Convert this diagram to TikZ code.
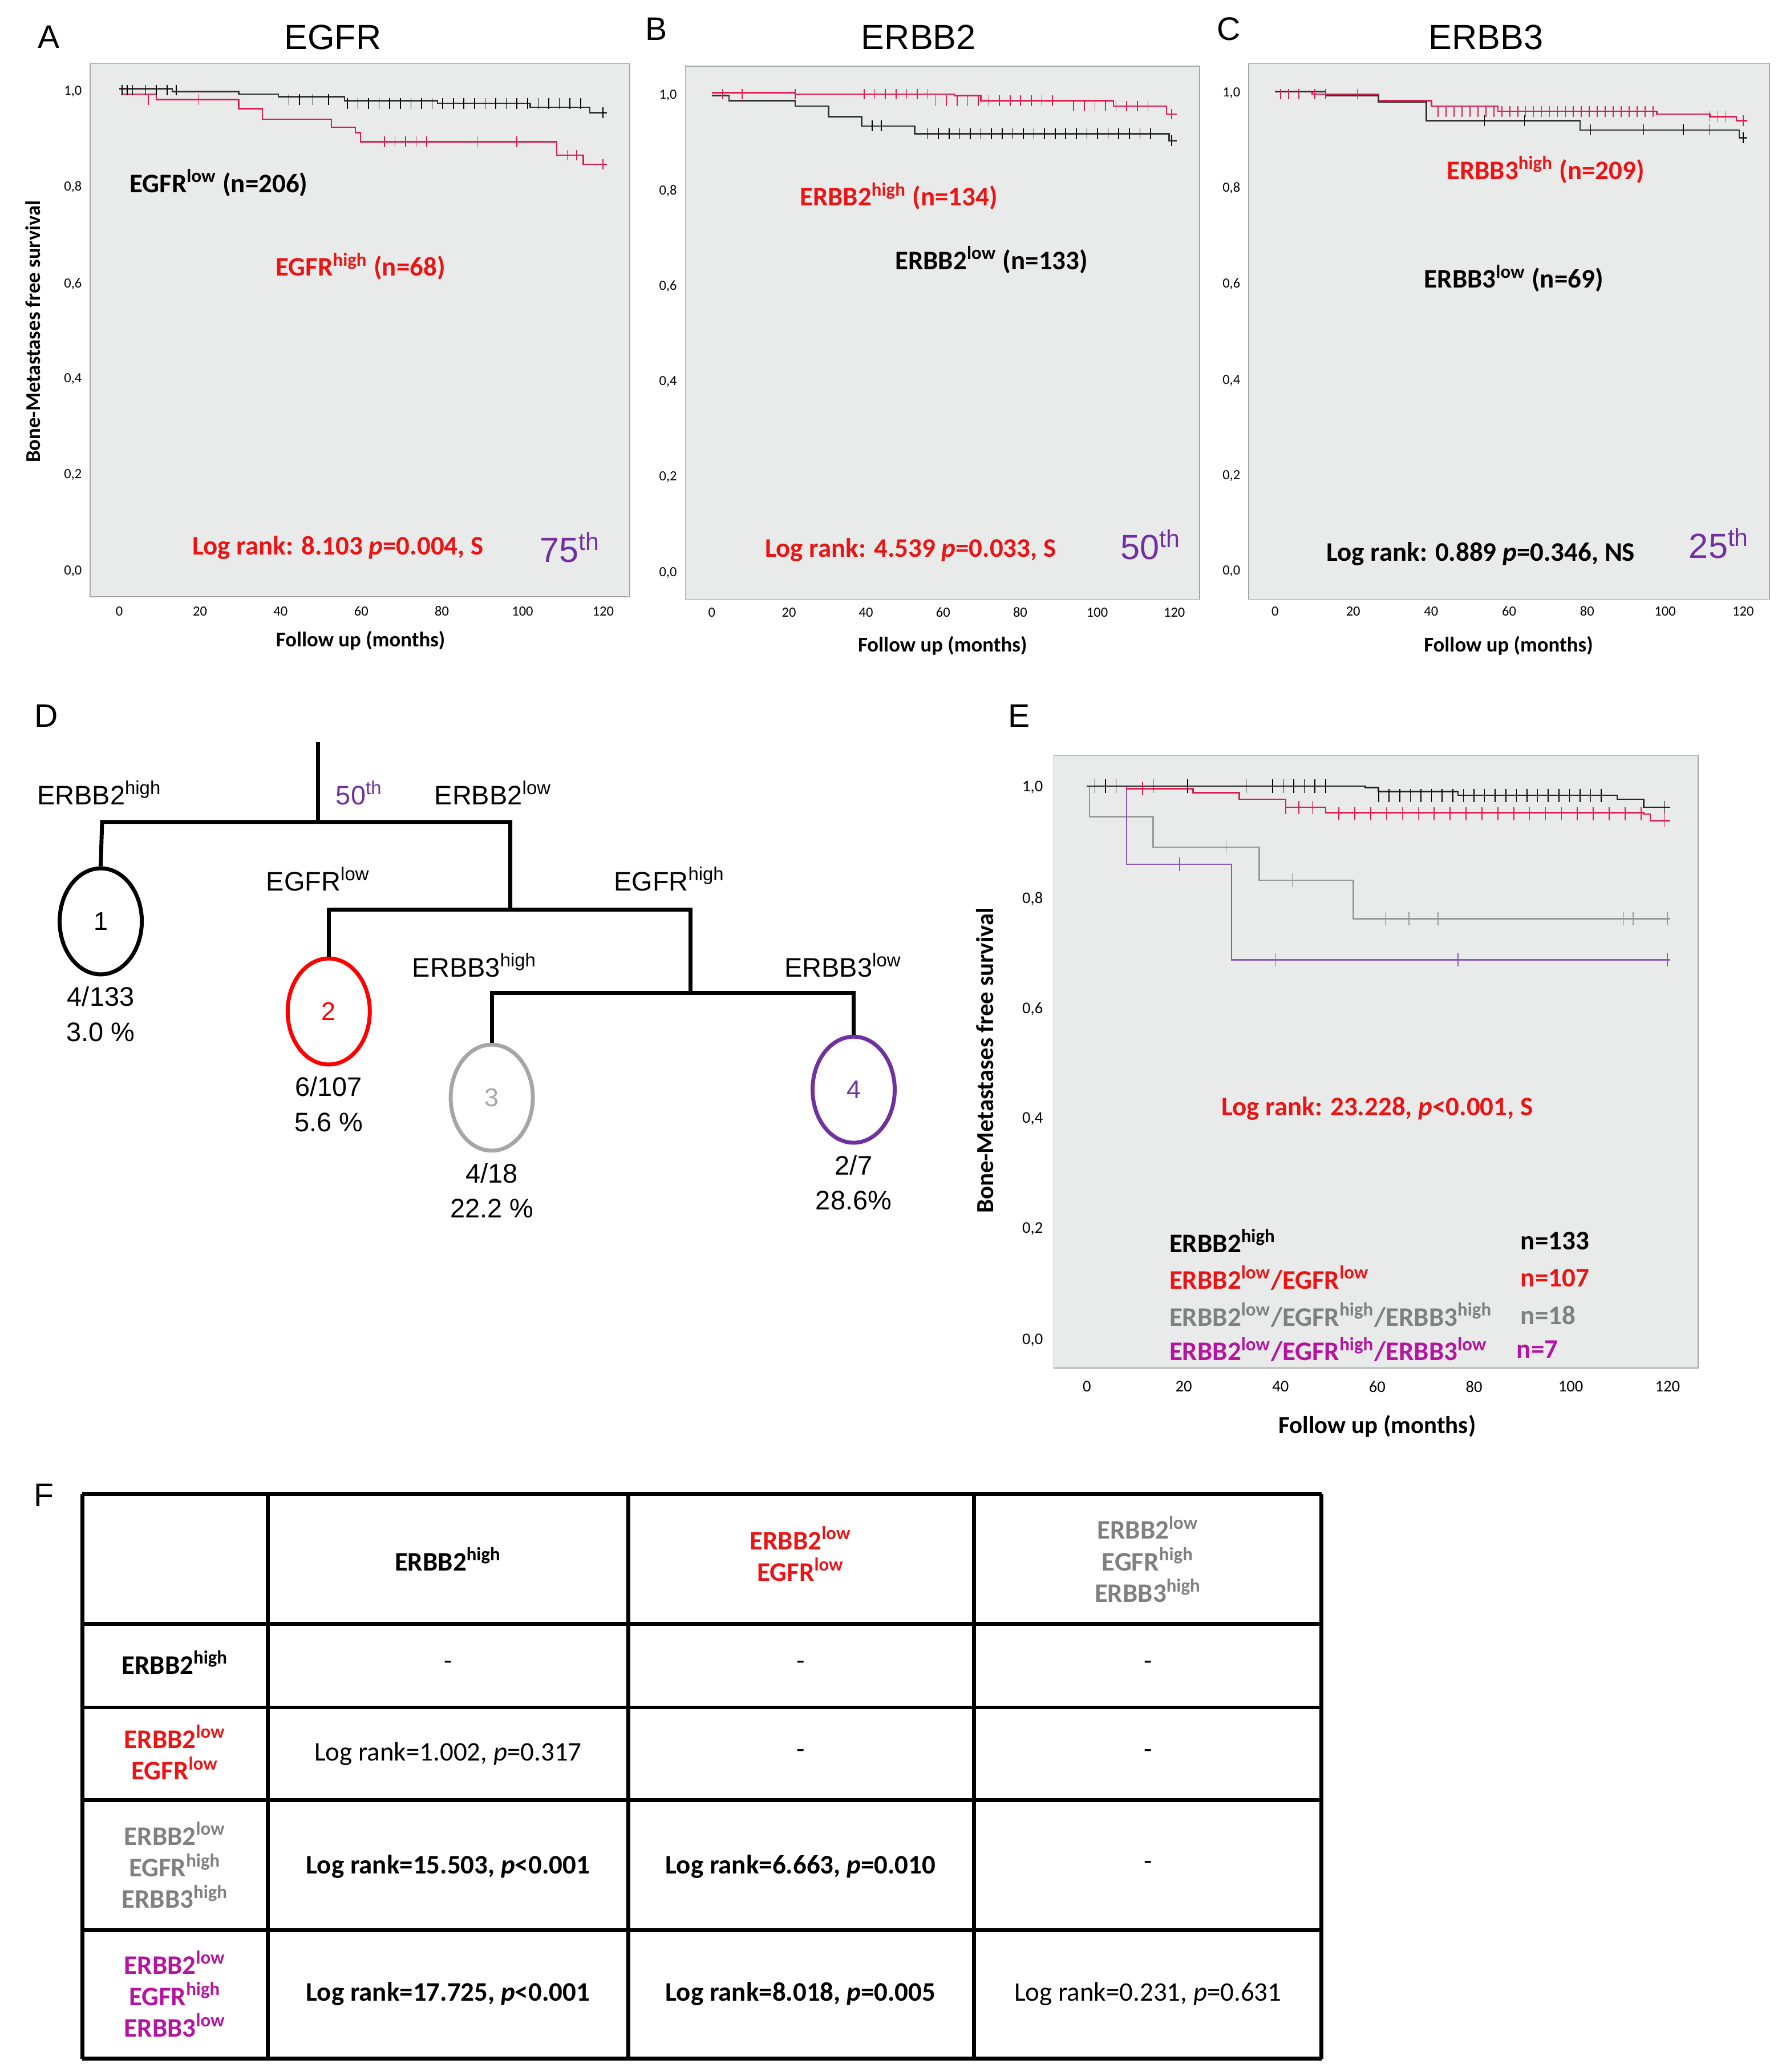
\documentclass[tikz,border=0pt]{standalone}
\usepackage{fontspec}
\setmainfont{Carlito}
\newfontfamily\arialf{Liberation Sans}
\usetikzlibrary{positioning, shapes.geometric}
\definecolor{kmred}{RGB}{220,30,80}
\definecolor{txtred}{RGB}{235,20,20}
\definecolor{pct}{RGB}{112,48,160}
\definecolor{mag}{RGB}{180,20,160}
\definecolor{txtgray}{RGB}{128,128,128}
\definecolor{plotbg}{RGB}{233,234,234}
\newcommand{\hi}{\textsuperscript{high}}
\newcommand{\lo}{\textsuperscript{low}}
\newcommand{\pth}{\textsuperscript{th}}

\begin{document}
\begin{tikzpicture}[
    x=0.02cm, y=-0.02cm,
    plotbox/.style={draw=gray!70, fill=plotbg},
    tick/.style={font=\fontsize{6}{7}\selectfont},
    ann/.style={font=\fontsize{11.5}{13}\selectfont\bfseries},
    title/.style={font=\arialf\fontsize{15}{17}\selectfont},
    letter/.style={font=\arialf\fontsize{14}{16}\selectfont},
    axlab/.style={font=\fontsize{9}{10}\selectfont\bfseries},
    km/.style={const plot, line width=0.6pt},
    tree/.style={line width=1.7pt},
    tt/.style={font=\arialf\fontsize{11.5}{15}\selectfont, align=center},
    leaf/.style={ellipse, draw, line width=1.7pt, minimum width=1.24cm, minimum height=1.6cm, font=\arialf\fontsize{11}{13}\selectfont},
    cell/.style={font=\fontsize{11.5}{13.5}\selectfont, align=center},
    grid/.style={line width=1.7pt}
]
\useasboundingbox (0,0) rectangle (1350,1563);

% ---- panel A ----
\node[letter] (lA) at (37,28) {A};
\node[title] (tA) at (251,28) {EGFR};
\draw[plotbox] (68,48) rectangle (475,450);
\foreach \v/\y in {{1,0}/69, {0,8}/141, {0,6}/214, {0,4}/286, {0,2}/358, {0,0}/431}
  \node[tick] at (55,\y) {\v};
\foreach \t in {0,20,...,120}
  \node[tick] at (90+3.042*\t,461) {\t};
\node[axlab] (xA) at (272,483) {Follow up (months)};
\node[axlab, rotate=90] (yA) at (25,250) {Bone-Metastases free survival};
\draw[km, kmred] plot coordinates {(90,67)(92,71)(118,75)(180,82)(198,90)(250,96)(268,100)(272,107)(418,107)(420,117)(440,124)(458,124)};
\draw[km, black!80] plot coordinates {(90,67)(130,69)(180,71)(210,73)(260,76)(330,78)(400,81)(445,85)(458,85)};
\foreach \x in {92,96,100,110,118,126,133} \draw[black] (\x,64)--(\x,72);
\foreach \x in {218,226,236,248} \draw[black] (\x,71)--(\x,79);
\foreach \x in {262,270,...,440} \draw[black] (\x,74)--(\x,82);
\foreach \x in {112,150} \draw[kmred] (\x,71)--(\x,79);
\foreach \x in {290,298,...,322,360,390} \draw[kmred] (\x,103)--(\x,111);
\foreach \x in {428,435} \draw[kmred] (\x,113)--(\x,121);
\draw[black] (455,81)--(455,89); \draw[kmred] (455,120)--(455,128);
\node[ann] (gA1) at (165,138) {EGFR\lo{} (n=206)};
\node[ann, txtred] (gA2) at (272,201) {EGFR\hi{} (n=68)};
\node[ann, txtred] (lrA) at (255,413) {Log rank: 8.103 \textit{p}=0.004, S};
\node[title, pct] (pA) at (430,413) {75\pth};

% ---- panel B ----
\node[letter] (lB) at (495,22) {B};
\node[title] (tB) at (693,28) {ERBB2};
\draw[plotbox] (517,50) rectangle (905,452);
\foreach \v/\y in {{1,0}/72, {0,8}/144, {0,6}/216, {0,4}/288, {0,2}/360, {0,0}/432}
  \node[tick] at (504,\y) {\v};
\foreach \t in {0,20,...,120}
  \node[tick] at (537+2.908*\t,462) {\t};
\node[axlab] (xB) at (711,487) {Follow up (months)};
\draw[km, kmred] plot coordinates {(537,70)(600,71)(720,72)(740,76)(840,80)(880,86)(888,86)};
\draw[km, black!80] plot coordinates {(537,72)(550,76)(600,80)(625,88)(650,95)(690,101)(880,101)(882,106)(888,106)};
\foreach \x in {545,560,600,652,660,...,700} \draw[kmred] (\x,67)--(\x,75);
\foreach \x in {706,714,...,800} \draw[kmred] (\x,72)--(\x,80);
\foreach \x in {810,818,...,870} \draw[kmred] (\x,76)--(\x,84);
\draw[kmred] (884,82)--(884,90);
\foreach \x in {658,665} \draw[black] (\x,91)--(\x,99);
\foreach \x in {700,708,...,870} \draw[black] (\x,97)--(\x,105);
\draw[black] (884,102)--(884,110);
\node[ann, txtred] (gB1) at (678,148) {ERBB2\hi{} (n=134)};
\node[ann] (gB2) at (748,196) {ERBB2\lo{} (n=133)};
\node[ann, txtred] (lrB) at (687,415) {Log rank: 4.539 \textit{p}=0.033, S};
\node[title, pct] (pB) at (868,411) {50\pth};

% ---- panel C ----
\node[letter] (lC) at (927,22) {C};
\node[title] (tC) at (1121,28) {ERBB3};
\draw[plotbox] (942,48) rectangle (1335,452);
\foreach \v/\y in {{1,0}/70, {0,8}/142, {0,6}/214, {0,4}/287, {0,2}/359, {0,0}/431}
  \node[tick] at (929,\y) {\v};
\foreach \t in {0,20,...,120}
  \node[tick] at (962+2.942*\t,461) {\t};
\node[axlab] (xC) at (1138,487) {Follow up (months)};
\draw[km, kmred] plot coordinates {(962,69)(990,71)(1040,76)(1080,80)(1130,84)(1250,86)(1290,88)(1310,91)(1318,91)};
\draw[km, black!80] plot coordinates {(962,69)(1000,72)(1040,77)(1076,91)(1190,91)(1192,98)(1310,98)(1312,104)(1318,104)};
\foreach \x in {966,972,980,992,1000,1024} \draw[kmred] (\x,67)--(\x,75);
\foreach \x in {1085,1091,...,1250} \draw[kmred] (\x,80)--(\x,88);
\foreach \x in {1290,1296,1302} \draw[kmred] (\x,84)--(\x,92);
\draw[kmred] (1315,87)--(1315,95);
\foreach \x in {1120,1150} \draw[black] (\x,87)--(\x,95);
\foreach \x in {1200,1240,1270,1290} \draw[black] (\x,94)--(\x,102);
\draw[black] (1315,100)--(1315,108);
\node[ann, txtred] (gC1) at (1166,128) {ERBB3\hi{} (n=209)};
\node[ann] (gC2) at (1142,210) {ERBB3\lo{} (n=69)};
\node[ann] (lrC) at (1117,418) {Log rank: 0.889 \textit{p}=0.346, NS};
\node[title, pct] (pC) at (1297,410) {25\pth};

% ---- panel D ----
\node[letter] (lD) at (35,540) {D};
\coordinate (root) at (240,560);
\coordinate (j1) at (240,620);
\coordinate (j1l) at (77,620);
\coordinate (j1r) at (385,620);
\coordinate (j2) at (385,686);
\coordinate (j2l) at (248,686);
\coordinate (j2r) at (521,686);
\coordinate (j3) at (521,749);
\coordinate (j3l) at (371,749);
\coordinate (j3r) at (644,749);
\node[leaf, black] (n1) at (76,695) {1};
\node[leaf, red, text=red] (n2) at (248,763) {2};
\node[leaf, black!35, text=black!35] (n3) at (371,828) {3};
\node[leaf, pct, text=pct] (n4) at (644,822) {4};
\draw[tree] (root) -- (j1);
\draw[tree] (n1.north) -- (j1l) -- (j1r) -- (j2);
\draw[tree] (n2.north) -- (j2l) -- (j2r) -- (j3);
\draw[tree] (n3.north) -- (j3l) -- (j3r) -- (n4.north);
\node[tt] (s1) at (75,598) {ERBB2\hi};
\node[tt, pct] (s50) at (271,598) {50\pth};
\node[tt] (s2) at (372,598) {ERBB2\lo};
\node[tt] (s3) at (240,663) {EGFR\lo};
\node[tt] (s4) at (505,663) {EGFR\hi};
\node[tt] (s5) at (358,728) {ERBB3\hi};
\node[tt] (s6) at (636,728) {ERBB3\lo};
\node[tt, below=1pt of n1] (f1) {4/133\\3.0 \%};
\node[tt, below=1pt of n2] (f2) {6/107\\5.6 \%};
\node[tt, below=1pt of n3] (f3) {4/18\\22.2 \%};
\node[tt, below=1pt of n4] (f4) {2/7\\28.6\%};

% ---- panel E ----
\node[letter] (lE) at (769,540) {E};
\draw[plotbox] (795,570) rectangle (1281,1032);
\foreach \v/\y in {{1,0}/594, {0,8}/678, {0,6}/761, {0,4}/844, {0,2}/927, {0,0}/1011}
  \node[tick, font=\fontsize{7}{8}\selectfont] at (779,\y) {\v};
\foreach \t in {0,20,...,120}
  \node[tick, font=\fontsize{7}{8}\selectfont] at (820+3.65*\t,1046) {\t};
\node[axlab, font=\fontsize{10.5}{12}\selectfont\bfseries] (xE) at (1039,1076) {Follow up (months)};
\node[axlab, font=\fontsize{10.5}{12}\selectfont\bfseries, rotate=90] (yE) at (743,800) {Bone-Metastases free survival};
\draw[km, black!40] plot coordinates {(820,593)(822,616)(870,639)(950,664)(1021,693)(1260,693)};
\draw[km, pct!80] plot coordinates {(820,593)(850,652)(929,724)(1260,724)};
\draw[km, kmred] plot coordinates {(820,593)(850,595)(900,598)(935,603)(970,609)(1000,613)(1240,614)(1245,619)(1260,619)};
\draw[km, black!85] plot coordinates {(820,593)(1030,594)(1040,597)(1100,600)(1220,603)(1240,609)(1260,609)};
\foreach \x in {826,834,842,870,896,940,960,968,976,984,992,1000} \draw[black] (\x,588)--(\x,598);
\foreach \x in {1040,1048,...,1210} \draw[black] (\x,595)--(\x,605);
\draw[black] (1256,604)--(1256,614);
\draw[kmred] (862,590)--(862,600);
\foreach \x in {970,980,990} \draw[kmred] (\x,604)--(\x,614);
\foreach \x in {1010,1022,...,1240} \draw[kmred] (\x,609)--(\x,619);
\draw[kmred] (1256,614)--(1256,624);
\draw[black!40] (925,634)--(925,644);
\draw[black!40] (975,659)--(975,669);
\foreach \x in {1045,1063,1085,1225,1232,1258} \draw[black!40] (\x,688)--(\x,698);
\draw[pct!80] (890,647)--(890,657);
\foreach \x in {962,1100,1258} \draw[pct!80] (\x,719)--(\x,729);
\node[ann, txtred] (lrE) at (1039,836) {Log rank: 23.228, \textit{p}<0.001, S};
\node[ann, anchor=west] (e1) at (876,936) {ERBB2\hi};
\node[ann, anchor=west, txtred] (e2) at (876,964) {ERBB2\lo/EGFR\lo};
\node[ann, anchor=west, txtgray] (e3) at (876,992) {ERBB2\lo/EGFR\hi/ERBB3\hi};
\node[ann, anchor=west, mag] (e4) at (876,1018) {ERBB2\lo/EGFR\hi/ERBB3\lo};
\node[ann, anchor=west] (m1) at (1141,936) {n=133};
\node[ann, anchor=west, txtred] (m2) at (1141,964) {n=107};
\node[ann, anchor=west, txtgray] (m3) at (1141,992) {n=18};
\node[ann, anchor=west, mag] (m4) at (1138,1018) {n=7};

% ---- panel F ----
\node[letter] (lF) at (33,1128) {F};
\foreach \x in {62,202,474,735,997} \draw[grid] (\x,1127) -- (\x,1553);
\foreach \y in {1127,1225,1288,1358,1456,1553} \draw[grid] (62,\y) -- (997,\y);
\node[cell, font=\fontsize{11.5}{13.5}\selectfont\bfseries] (h1) at (338,1176) {ERBB2\hi};
\node[cell, font=\fontsize{11.5}{13.5}\selectfont\bfseries, txtred] (h2) at (604,1172) {ERBB2\lo\\EGFR\lo};
\node[cell, font=\fontsize{11.5}{13.5}\selectfont\bfseries, txtgray] (h3) at (866,1176) {ERBB2\lo\\EGFR\hi\\ERBB3\hi};
\node[cell, font=\fontsize{11.5}{13.5}\selectfont\bfseries] (r1) at (132,1254) {ERBB2\hi};
\node[cell, font=\fontsize{11.5}{13.5}\selectfont\bfseries, txtred] (r2) at (132,1322) {ERBB2\lo\\EGFR\lo};
\node[cell, font=\fontsize{11.5}{13.5}\selectfont\bfseries, txtgray] (r3) at (132,1407) {ERBB2\lo\\EGFR\hi\\ERBB3\hi};
\node[cell, font=\fontsize{11.5}{13.5}\selectfont\bfseries, mag] (r4) at (132,1504) {ERBB2\lo\\EGFR\hi\\ERBB3\lo};
\foreach \x/\y in {338/1256, 604/1256, 866/1256, 604/1323, 866/1323, 866/1407}
  \node[cell] at (\x,\y) {-};
\node[cell] (c21) at (338,1323) {Log rank=1.002, \textit{p}=0.317};
\node[cell, font=\fontsize{11.5}{13.5}\selectfont\bfseries] (c31) at (338,1408) {Log rank=15.503, \textit{p}<0.001};
\node[cell, font=\fontsize{11.5}{13.5}\selectfont\bfseries] (c32) at (604,1408) {Log rank=6.663, \textit{p}=0.010};
\node[cell, font=\fontsize{11.5}{13.5}\selectfont\bfseries] (c41) at (338,1504) {Log rank=17.725, \textit{p}<0.001};
\node[cell, font=\fontsize{11.5}{13.5}\selectfont\bfseries] (c42) at (604,1504) {Log rank=8.018, \textit{p}=0.005};
\node[cell] (c43) at (866,1504) {Log rank=0.231, \textit{p}=0.631};
\end{tikzpicture}
\end{document}
